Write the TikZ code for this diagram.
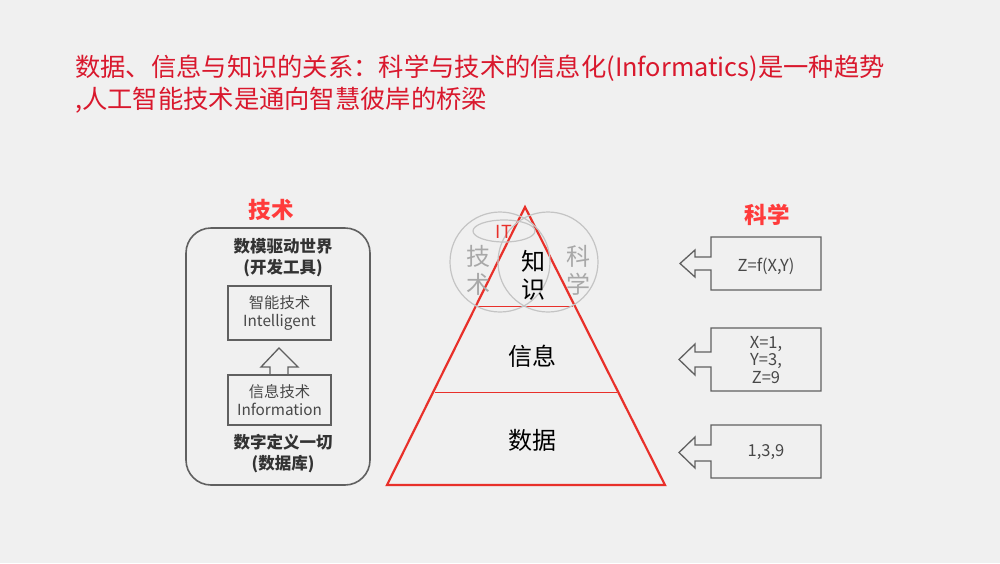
\documentclass[tikz,border=0pt]{standalone}
\usepackage{fontspec}
\setmainfont{Noto Sans CJK SC}
\definecolor{bg}{HTML}{F0F0F0}
\definecolor{titlered}{HTML}{D9182D}
\definecolor{labelred}{HTML}{FF3B3B}
\definecolor{trired}{HTML}{E8302A}
\definecolor{boxgray}{HTML}{606060}
\definecolor{txtgray}{HTML}{484848}
\definecolor{circgray}{HTML}{C4C4C4}
\definecolor{lightgray}{HTML}{A8A8A8}
\tikzset{
  titletext/.style={anchor=west, inner sep=0pt, text=titlered, font=\fontsize{25.3}{30}\selectfont},
  redlabel/.style={text=labelred, font=\fontsize{22.5}{26}\selectfont\bfseries},
  boldtext/.style={text=black!80, font=\fontsize{16.5}{21}\selectfont\bfseries, align=center},
  inbox/.style={draw=boxgray, line width=1.3pt, minimum width=103pt, minimum height=54pt, align=center, text=txtgray, font=\fontsize{15.3}{17.5}\selectfont},
  rbox/.style={draw=boxgray, line width=1.3pt},
  rtext/.style={text=txtgray, font=\fontsize{16.5}{17.5}\selectfont, align=center},
  bigtext/.style={text=black, font=\fontsize{24}{28}\selectfont},
  circtext/.style={text=lightgray, font=\fontsize{24}{28}\selectfont},
  circ/.style={draw=circgray, line width=1.2pt},
}
\begin{document}
\begin{tikzpicture}[x=1pt,y=-1pt]
\fill[bg] (0,0) rectangle (1000,563);
\useasboundingbox (0,0) rectangle (1000,563);
% title
\node[titletext] (t1) at (75,68) {数据、信息与知识的关系：科学与技术的信息化(Informatics)是一种趋势};
\node[titletext] (t2) at (75,100) {,人工智能技术是通向智慧彼岸的桥梁};
% left panel
\node[redlabel] (jishu) at (271,210) {技术};
\draw[boxgray, line width=1.6pt, rounded corners=25pt] (186,228) rectangle (370,485);
\node[boldtext] (top) at (283,258) {数模驱动世界\\(开发工具)};
\node[inbox] (intel) at (279.5,313) {智能技术\\Intelligent};
\node[inbox, minimum height=50pt] (info) at (279.5,400) {信息技术\\Information};
\node[boldtext] (bot) at (283,454) {数字定义一切\\(数据库)};
\draw[boxgray, line width=1.3pt] (270,375) -- (270,367) -- (261,367) -- (279,348) -- (298,367) -- (288,367) -- (288,375);
% triangle
\draw[trired, line width=2.2pt, line join=miter] (525,207) -- (665,485) -- (387,485) -- cycle;
\draw[trired, line width=1pt] (435,392) -- (617,392);
\draw[trired, line width=1pt] (477,306) -- (573,306);
\draw[circ] (500,262) circle (50);
\draw[circ] (548,262) circle (50);
\draw[circ] (504,231) ellipse (31 and 11);
\node[text=trired, font=\fontsize{18}{20}\selectfont] (it) at (504,232) {IT};
\node[circtext] (ji) at (478,256) {技};
\node[circtext] (shu) at (478,284) {术};
\node[circtext] (ke) at (578,256) {科};
\node[circtext] (xue) at (578,284) {学};
\node[bigtext] (zhi) at (533,261) {知};
\node[bigtext] (shi) at (533,290) {识};
\node[bigtext] (xinxi) at (532,356) {信息};
\node[bigtext] (shuju) at (532,440) {数据};
% right panel
\node[redlabel] (kexue) at (767,215) {科学};
\draw[rbox] (711,257) -- (711,237) -- (821,237) -- (821,290) -- (711,290) -- (711,270) -- (695,270) -- (695,277) -- (680,263.5) -- (695,250) -- (695,257) -- cycle;
\node[rtext] (f) at (766,266) {Z=f(X,Y)};
\draw[rbox] (711,352) -- (711,328) -- (821,328) -- (821,391) -- (711,391) -- (711,367) -- (695,367) -- (695,375) -- (679,359.5) -- (695,344) -- (695,352) -- cycle;
\node[rtext] (xyz) at (766,360) {X=1,\\Y=3,\\Z=9};
\draw[rbox] (711,445) -- (711,425) -- (821,425) -- (821,478) -- (711,478) -- (711,461) -- (695,461) -- (695,468) -- (679,452.5) -- (695,437) -- (695,445) -- cycle;
\node[rtext] (nums) at (766,452) {1,3,9};
\end{tikzpicture}
\end{document}
